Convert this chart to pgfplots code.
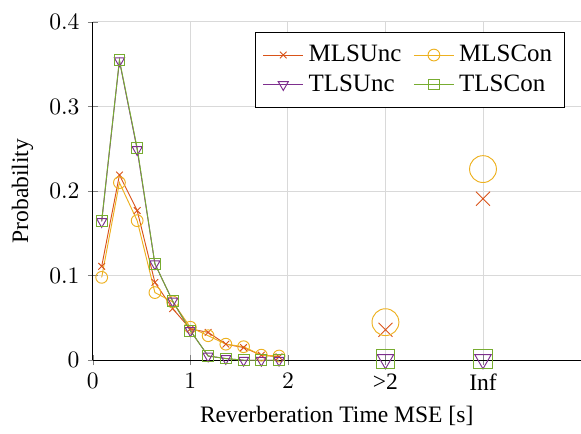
\documentclass[border=0pt]{standalone}
\usepackage{fontspec}
\setmainfont{Liberation Serif}
\usepackage{pgfplots}
\pgfplotsset{compat=1.18}
\definecolor{cMU}{HTML}{D95319}
\definecolor{cMC}{HTML}{EDB120}
\definecolor{cTU}{HTML}{7E2F8E}
\definecolor{cTC}{HTML}{77AC30}
\begin{document}
\begin{tikzpicture}
\begin{axis}[
  scale only axis, width=207pt, height=143.6pt,
  xmin=0, xmax=5, ymin=0, ymax=0.4,
  axis lines=left, axis line style={-},
  xtick={0,1,2,3,4}, xticklabels={$0$,$1$,$2$,>2,Inf},
  ytick={0,0.1,0.2,0.3,0.4},
  yticklabels={$0$,$0.1$,$0.2$,$0.3$,$0.4$},
  grid=major, grid style={gray!30},
  xlabel={Reverberation Time MSE [s]},
  ylabel={Probability},
  legend columns=2,
  legend cell align=left,
  legend style={at={(0.967,0.97)}, anchor=north east, draw=black, inner ysep=3.3pt, font=\fontsize{10.6}{12.5}\selectfont,
    /tikz/every even column/.append style={column sep=3pt}},
  clip=false,
]
\addplot[color=cMU, mark=x, mark size=2pt] coordinates {
(0.0909,0.111)(0.2727,0.219)(0.4545,0.177)(0.6364,0.092)(0.8182,0.061)(1.0,0.037)(1.1818,0.033)(1.3636,0.019)(1.5455,0.015)(1.7273,0.006)(1.9091,0.004)};
\addlegendentry{MLSUnc}
\addplot[color=cMC, mark=o, mark size=2.5pt] coordinates {
(0.0909,0.098)(0.2727,0.210)(0.4545,0.165)(0.6364,0.080)(0.8182,0.069)(1.0,0.039)(1.1818,0.029)(1.3636,0.019)(1.5455,0.016)(1.7273,0.006)(1.9091,0.005)};
\addlegendentry{MLSCon}
\addplot[color=cTU, mark=triangle, mark options={rotate=180}, mark size=2.5pt] coordinates {
(0.0909,0.164)(0.2727,0.354)(0.4545,0.249)(0.6364,0.114)(0.8182,0.070)(1.0,0.035)(1.1818,0.005)(1.3636,0.002)(1.5455,0)(1.7273,0)(1.9091,0)};
\addlegendentry{TLSUnc}
\addplot[color=cTC, mark=square, mark size=2.3pt] coordinates {
(0.0909,0.165)(0.2727,0.355)(0.4545,0.251)(0.6364,0.114)(0.8182,0.070)(1.0,0.035)(1.1818,0.005)(1.3636,0.002)(1.5455,0)(1.7273,0)(1.9091,0)};
\addlegendentry{TLSCon}
\addplot[forget plot, only marks, color=cMU, mark=x, mark size=4.2pt] coordinates {(3,0.036)(4,0.191)};
\addplot[forget plot, only marks, color=cMC, mark=o, mark size=5.7pt] coordinates {(3,0.045)(4,0.226)};
\addplot[forget plot, only marks, color=cTU, mark=triangle, mark options={rotate=180}, mark size=4pt] coordinates {(3,0.001)(4,0.001)};
\addplot[forget plot, only marks, color=cTC, mark=square, mark size=4pt] coordinates {(3,0.001)(4,0.001)};
\path (rel axis cs:0,1) ++(0pt,9.3pt);
\path (rel axis cs:0,0) ++(-39.4pt,0pt);
\end{axis}
\end{tikzpicture}
\end{document}
